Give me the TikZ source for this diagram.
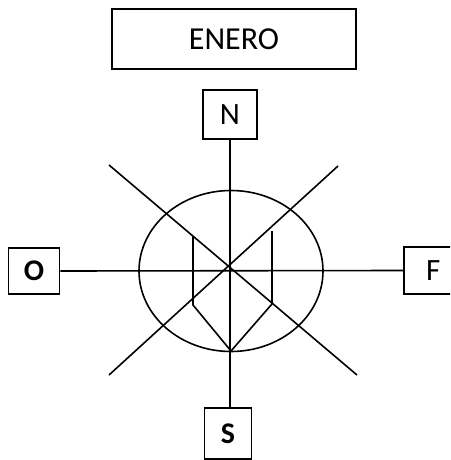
\documentclass[tikz,border=0pt]{standalone}
\usepackage{fontspec}
\setmainfont{Carlito}
\usepackage{tikz}

\begin{document}
\begin{tikzpicture}[x=1pt,y=-1pt,line width=1.6pt,
    caja/.style={draw,rectangle,inner sep=0pt,font=\fontsize{32}{34}\selectfont},
    letra/.style={caja,font=\fontsize{31}{34}\selectfont},
    negrita/.style={caja,font=\fontsize{30}{34}\selectfont\bfseries}]
    \useasboundingbox (0,0) rectangle (450,460);
    \clip (0,0) rectangle (450,460);
    \path
    node[caja,minimum width=244pt,minimum height=60pt] (mes) at (234,39) {ENERO}
    node[letra,minimum width=54pt,minimum height=49pt] (norte) at (230,114.5) {N}
    node[negrita,minimum width=51pt,minimum height=46pt] (oeste) at (34,271) {O}
    node[letra,minimum width=70pt,minimum height=47pt,text width=66pt,align=left] (este) at (439,270.5) {\hspace*{20pt}F}
    node[negrita,minimum width=47pt,minimum height=51pt] (sur) at (228,433.5) {S};

    \path
    coordinate (c) at (231,269)
    coordinate (nw) at (109,165)
    coordinate (se) at (357,375)
    coordinate (ne) at (338,166)
    coordinate (sw) at (109,375);

    \draw (231,271) ellipse [x radius=92pt,y radius=80.5pt];
    \draw (norte.south) -- (norte.south |- sur.north);
    \draw (oeste.east) -- (este.west);
    \draw (nw) -- (se);
    \draw (ne) -- (sw);
    \draw (193,237) -- (193,305) -- (231,351) -- (272,304) -- (272,231);
\end{tikzpicture}
\end{document}
